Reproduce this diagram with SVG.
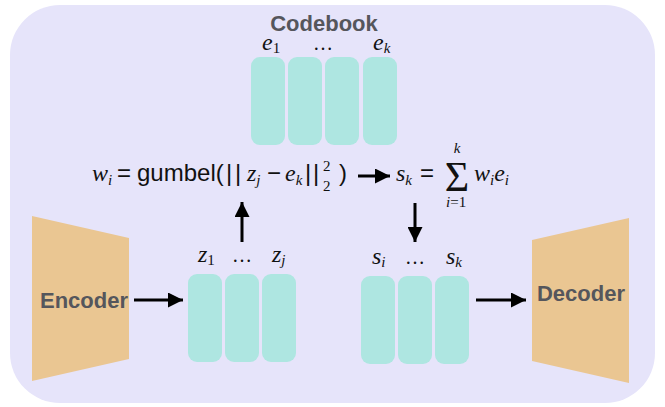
<svg xmlns="http://www.w3.org/2000/svg" width="665" height="407" viewBox="0 0 665 407">
<defs>
<style>
.bg{fill:#e6e4fa}
.blk{fill:#aee6e1}
.trap{fill:#eac692}
.lbl{font-family:"Liberation Sans",Arial,sans-serif;font-weight:bold;font-size:22px;fill:#55565c}
.it{font-family:"Liberation Serif","Times New Roman",serif;font-style:italic;font-size:24px;fill:#111}
.sub{font-size:15px}
.rm{font-family:"Liberation Serif","Times New Roman",serif;font-style:normal;font-size:15px;fill:#111}
.sans{font-family:"Liberation Sans",Arial,sans-serif;font-style:normal;font-size:24px;fill:#111}
.dots{font-family:"Liberation Serif","Times New Roman",serif;font-style:normal;font-size:20px;fill:#111}
.sig{font-family:"Liberation Serif","Times New Roman",serif;font-style:normal;font-size:42px;fill:#111}
.conn line{stroke:#000;stroke-width:3}
</style>
<marker id="ah" viewBox="0 0 10 10" refX="10" refY="5" markerWidth="5" markerHeight="5" markerUnits="strokeWidth" orient="auto">
<path d="M0,0 L10,5 L0,10 z" fill="#000"/>
</marker>
</defs>
<rect class="bg" x="10" y="5" width="645" height="398" rx="50" ry="50"/>

<g id="codebook">
<text class="lbl" x="324" y="31" text-anchor="middle">Codebook</text>
<rect class="blk" x="251" y="57" width="34" height="88" rx="9"/>
<rect class="blk" x="288" y="57" width="34" height="88" rx="9"/>
<rect class="blk" x="325" y="57" width="34" height="88" rx="9"/>
<rect class="blk" x="363" y="57" width="34" height="88" rx="9"/>
<text class="it" x="262" y="50">e<tspan class="rm" dy="3">1</tspan></text>
<text class="dots" x="323" y="50" text-anchor="middle">…</text>
<text class="it" x="373" y="50">e<tspan class="sub" dy="3">k</tspan></text>
</g>

<g id="formula">
<text class="it" x="92" y="181">w<tspan class="sub" dy="4">i</tspan></text>
<text class="sans" x="117" y="181">=</text>
<text class="sans" x="137" y="181">gumbel(</text>
<text class="sans" x="226" y="181">|</text>
<text class="sans" x="235" y="181">|</text>
<text class="it" x="247" y="181">z<tspan class="sub" dy="4">j</tspan></text>
<text class="sans" x="267" y="181">−</text>
<text class="it" x="285" y="181">e<tspan class="sub" dy="4">k</tspan></text>
<text class="sans" x="305" y="181">|</text>
<text class="sans" x="313" y="181">|</text>
<text class="rm" x="323" y="171">2</text>
<text class="rm" x="323" y="191">2</text>
<text class="sans" x="339" y="181">)</text>
</g>

<g id="sum">
<text class="it" x="396" y="181">s<tspan class="sub" dy="4">k</tspan></text>
<text class="sans" x="420" y="181">=</text>
<text class="sig" x="457" y="191" text-anchor="middle">Σ</text>
<text class="it sub" x="457" y="153" text-anchor="middle">k</text>
<text class="it sub" x="446" y="207">i<tspan class="rm">=1</tspan></text>
<text class="it" x="474" y="181">w<tspan class="sub" dy="4">i</tspan><tspan dy="-4">e</tspan><tspan class="sub" dy="4">i</tspan></text>
</g>

<g id="encoder">
<polygon class="trap" points="32,216 129,238 129,359 32,381"/>
<text class="lbl" x="84" y="308" text-anchor="middle">Encoder</text>
</g>

<g id="z">
<rect class="blk" x="188" y="274" width="34" height="88" rx="9"/>
<rect class="blk" x="225" y="274" width="34" height="88" rx="9"/>
<rect class="blk" x="262" y="274" width="34" height="88" rx="9"/>
<text class="it" x="198" y="262">z<tspan class="rm" dy="3">1</tspan></text>
<text class="dots" x="242" y="262" text-anchor="middle">…</text>
<text class="it" x="272" y="262">z<tspan class="sub" dy="3">j</tspan></text>
</g>

<g id="s">
<rect class="blk" x="361" y="276" width="34" height="88" rx="9"/>
<rect class="blk" x="398" y="276" width="34" height="88" rx="9"/>
<rect class="blk" x="435" y="276" width="34" height="88" rx="9"/>
<text class="it" x="372" y="264">s<tspan class="sub" dy="3">i</tspan></text>
<text class="dots" x="415" y="264" text-anchor="middle">…</text>
<text class="it" x="446" y="264">s<tspan class="sub" dy="3">k</tspan></text>
</g>

<g id="decoder">
<polygon class="trap" points="532,240 629,218 629,383 532,361"/>
<text class="lbl" x="581" y="301" text-anchor="middle">Decoder</text>
</g>

<g class="conn" id="connectors">
<line x1="134" y1="300" x2="183" y2="300" marker-end="url(#ah)"/>
<line x1="242" y1="242" x2="242" y2="202" marker-end="url(#ah)"/>
<line x1="415" y1="203" x2="415" y2="242" marker-end="url(#ah)"/>
<line x1="476" y1="300" x2="526" y2="300" marker-end="url(#ah)"/>
<line x1="358" y1="176" x2="390" y2="176" marker-end="url(#ah)"/>
</g>
</svg>
